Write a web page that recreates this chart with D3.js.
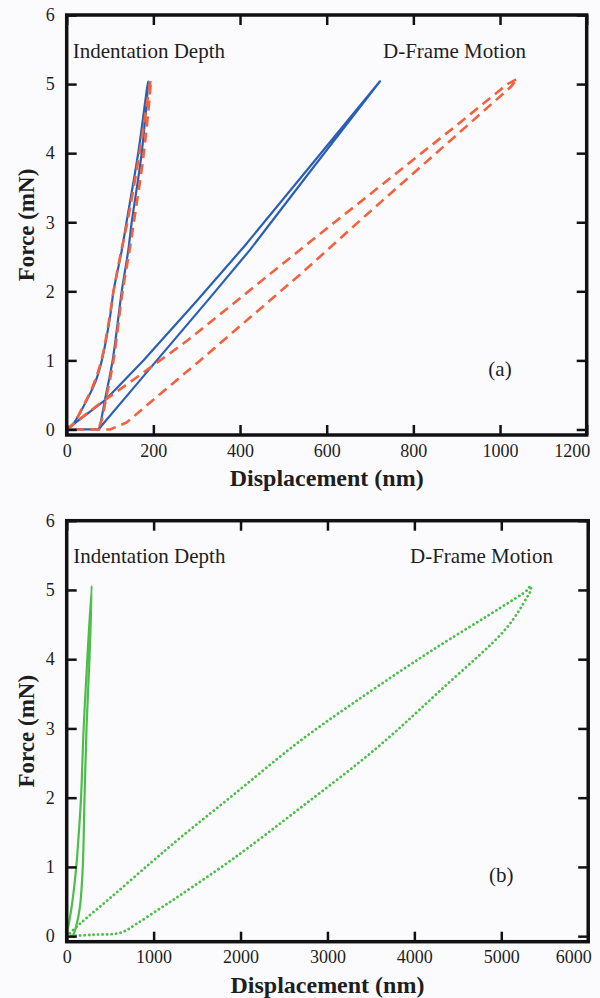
<!DOCTYPE html>
<html>
<head>
<meta charset="utf-8">
<script src="https://cdn.jsdelivr.net/npm/d3@7"></script>
<style>
  body { margin: 0; background: #fbfbfe; }
  text { font-family: "Liberation Serif", "Times New Roman", serif; fill: #1e1e1e; }
</style>
</head>
<body>
<div id="chart"></div>
<script>
// ---- panel (a) data: displacement (nm) / force (mN) ----
// indentation depth, blue solid (loading then unloading)
let depthBlueNm = [0, 15, 35, 65, 81, 100, 108, 127, 138, 165, 188, 173, 150, 142, 127, 106, 88, 80, 75];
let depthBlueMn = [0, 0.08, 0.29, 0.67, 1.0, 1.63, 2.0, 2.59, 3.0, 4.0, 5.04, 4.0, 3.0, 2.59, 2.0, 1.0, 0.42, 0.15, 0];
// indentation depth, red dashed
let depthRedNm = [0, 15, 35, 63, 80, 99, 108, 126, 140, 168, 194, 178, 155, 145, 129, 108, 90, 80, 72];
let depthRedMn = [0, 0.08, 0.3, 0.67, 1.0, 1.63, 2.0, 2.59, 3.0, 4.0, 5.06, 4.0, 3.0, 2.59, 2.0, 1.0, 0.42, 0.12, 0];
// D-frame motion, blue solid
let frameBlueNm = [0, 88, 177, 300, 411, 550, 723, 560, 423, 327, 208, 150, 73, 0];
let frameBlueMn = [0, 0.42, 1.0, 1.86, 2.66, 3.72, 5.04, 3.72, 2.6, 1.88, 1.0, 0.57, 0, 0];
// D-frame motion, red dashed
let frameRedNm = [0, 30, 69, 154, 277, 400, 554, 715, 915, 1015, 1040, 1025, 885, 685, 538, 423, 308, 200, 138, 100, 0];
let frameRedMn = [0, 0.15, 0.34, 0.72, 1.28, 1.9, 2.68, 3.48, 4.48, 4.99, 5.08, 4.96, 4.18, 3.07, 2.24, 1.62, 1.0, 0.43, 0.1, 0, 0];

// ---- panel (b) data ----
// indentation depth, green solid
let depthGreenNm = [0, 20, 60, 110, 140, 165, 195, 237, 288, 262, 228, 205, 185, 150, 100, 70];
let depthGreenMn = [0, 0.15, 0.45, 1.0, 1.5, 2.0, 3.0, 4.0, 5.06, 4.0, 3.0, 2.0, 1.0, 0.4, 0.1, 0];
// D-frame motion, green dotted
let frameGreenNm = [0, 153, 499, 959, 1306, 1917, 2686, 3453, 4219, 4987, 5300, 5335, 5340, 5294, 5060, 4300, 3550, 2686, 1917, 1304, 1074, 806, 620, 300, 0];
let frameGreenMn = [0, 0.18, 0.55, 1.05, 1.42, 2.04, 2.82, 3.5, 4.14, 4.74, 5.0, 5.06, 5.0, 4.89, 4.45, 3.55, 2.7, 1.85, 1.12, 0.59, 0.4, 0.18, 0.05, 0.02, 0];

// tick values
let forceTicks = [0, 1, 2, 3, 4, 5, 6];
let aDispTicks = [0, 200, 400, 600, 800, 1000, 1200];
let bDispTicks = [0, 1000, 2000, 3000, 4000, 5000, 6000];

let svgWidth = 600;
let svgHeight = 998;

let svg = d3.select("#chart")
  .append("svg")
  .attr("width", svgWidth)
  .attr("height", svgHeight);

function zip(xs, ys) {
  return xs.map((x, i) => ({ x: x, y: ys[i] }));
}

// draws one framed panel
function drawPanel(opt) {
  let width = opt.width;
  let height = opt.height;

  let g = svg.append("g")
    .attr("transform", `translate(${opt.left}, ${opt.top})`);

  let x = d3.scaleLinear().domain(opt.xDomain).range([0, width]);
  let y = d3.scaleLinear().domain([-0.08, 6]).range([height, 0]);

  // curves
  opt.series.forEach(function(s) {
    let line = d3.line()
      .x(d => x(d.x))
      .y(d => y(d.y))
      .curve(s.smooth ? d3.curveCatmullRom.alpha(0.5) : d3.curveLinear);

    g.append("path")
      .datum(zip(s.xs, s.ys))
      .attr("fill", "none")
      .attr("stroke", s.color)
      .attr("stroke-width", s.width)
      .attr("stroke-dasharray", s.dash || null)
      .attr("stroke-linecap", s.cap || "butt")
      .attr("stroke-linejoin", "round")
      .attr("d", line);
  });

  // inward ticks on all four sides
  let tickLen = 10;
  let xAxis = g.append("g")
    .attr("transform", `translate(0, ${height})`)
    .call(d3.axisBottom(x).tickValues(opt.xTicks).tickSize(-tickLen).tickPadding(9).tickFormat(d3.format("d")));
  g.append("g")
    .call(d3.axisTop(x).tickValues(opt.xTicks).tickSize(-tickLen).tickFormat(""));
  g.append("g")
    .call(d3.axisLeft(y).tickValues(forceTicks).tickSize(-tickLen).tickPadding(tickLen + 2).tickFormat(d3.format("d")));
  g.append("g")
    .attr("transform", `translate(${width}, 0)`)
    .call(d3.axisRight(y).tickValues(forceTicks).tickSize(-tickLen).tickFormat(""));

  g.selectAll(".domain").remove();
  g.selectAll(".tick line")
    .attr("stroke", "#111")
    .attr("stroke-width", 2.5);
  g.selectAll(".tick text")
    .attr("font-size", "18px")
    .attr("fill", "#1e1e1e");

  // last x label sits against the page edge
  xAxis.selectAll(".tick text")
    .filter((d, i, n) => i === n.length - 1)
    .attr("text-anchor", "end")
    .attr("x", 3);

  // frame
  g.append("rect")
    .attr("x", 0)
    .attr("y", 0)
    .attr("width", width)
    .attr("height", height)
    .attr("fill", "none")
    .attr("stroke", "#111")
    .attr("stroke-width", 3.5);

  // axis titles
  g.append("text")
    .attr("x", width / 2)
    .attr("y", height + 51)
    .attr("text-anchor", "middle")
    .attr("font-size", "24px")
    .attr("font-weight", "bold")
    .text("Displacement (nm)");

  g.append("text")
    .attr("transform", "rotate(-90)")
    .attr("x", -height / 2)
    .attr("y", -33)
    .attr("text-anchor", "middle")
    .attr("font-size", "23px")
    .attr("font-weight", "bold")
    .text("Force (mN)");

  // annotations
  g.append("text")
    .attr("x", x(opt.depthLabel[0]))
    .attr("y", y(opt.depthLabel[1]))
    .attr("font-size", "21px")
    .text("Indentation Depth");
  g.append("text")
    .attr("x", x(opt.frameLabel[0]))
    .attr("y", y(opt.frameLabel[1]))
    .attr("font-size", "21px")
    .text("D-Frame Motion");
  g.append("text")
    .attr("x", x(opt.panelLabel[0]))
    .attr("y", y(opt.panelLabel[1]))
    .attr("text-anchor", "middle")
    .attr("font-size", "21px")
    .text(opt.panelName);
}

let blue = "#2b5fb4";
let red = "#f2623e";
let green = "#4dbe4a";

// panel (a)
drawPanel({
  left: 66.7, top: 15, width: 520, height: 420,
  xDomain: [0, 1200], xTicks: aDispTicks,
  depthLabel: [14, 5.38], frameLabel: [730, 5.38], panelLabel: [1000, 0.77], panelName: "(a)",
  series: [
    { xs: frameBlueNm, ys: frameBlueMn, color: blue, width: 2.2 },
    { xs: depthBlueNm, ys: depthBlueMn, color: blue, width: 2.2, smooth: true },
    { xs: frameRedNm, ys: frameRedMn, color: red, width: 2.6, dash: "10,6" },
    { xs: depthRedNm, ys: depthRedMn, color: red, width: 2.6, dash: "10,6", smooth: true }
  ]
});

// panel (b)
drawPanel({
  left: 66.7, top: 520.7, width: 521.5, height: 421,
  xDomain: [0, 6000], xTicks: bDispTicks,
  depthLabel: [75, 5.39], frameLabel: [3950, 5.39], panelLabel: [5000, 0.78], panelName: "(b)",
  series: [
    { xs: frameGreenNm, ys: frameGreenMn, color: green, width: 2.8, dash: "0.1,4.4", cap: "round", smooth: true },
    { xs: depthGreenNm, ys: depthGreenMn, color: green, width: 2.2, smooth: true }
  ]
});
</script>
</body>
</html>
